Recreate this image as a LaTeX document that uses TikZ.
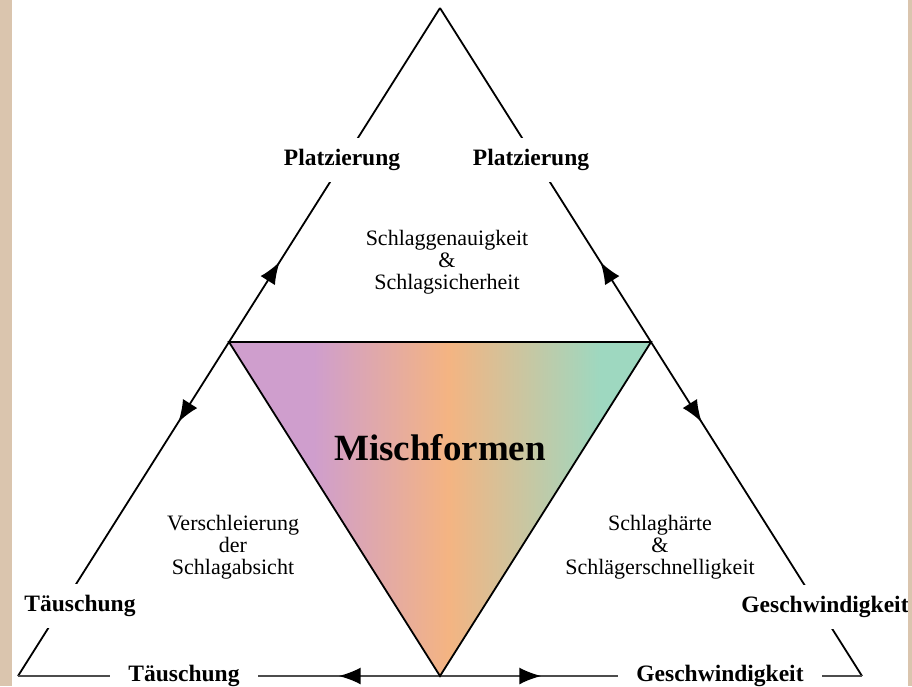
\documentclass[tikz,border=0pt]{standalone}
\usepackage{fontspec}
\setmainfont{Liberation Serif}
\usetikzlibrary{arrows.meta,calc,decorations.markings}
\definecolor{mixpurple}{RGB}{207,158,205}
\definecolor{mixorange}{RGB}{244,180,130}
\definecolor{mixteal}{RGB}{158,216,192}
\definecolor{parchment}{RGB}{218,197,174}
\pgfdeclarehorizontalshading{mixshade}{100bp}{color(0bp)=(mixpurple); color(35bp)=(mixpurple); color(51bp)=(mixorange); color(69bp)=(mixteal); color(100bp)=(mixteal)}

\begin{document}
\begin{tikzpicture}[x=1pt, y=-1pt,
    side/.style={draw=#1, line width=1.8pt, postaction={decorate}, decoration={markings,
        mark=at position 0.38 with {\arrowreversed{Latex[length=22pt,width=17pt,color=black]}},
        mark=at position 0.62 with {\arrow{Latex[length=22pt,width=17pt,color=black]}}}},
    side/.default=black,
    corner/.style={fill=white, inner xsep=18pt, inner ysep=11pt, font=\fontsize{23.5}{26}\selectfont\bfseries},
    area/.style={align=center, font=\fontsize{22}{22}\selectfont},
]
\useasboundingbox (0,0) rectangle (912,686);
\fill[white] (0,0) rectangle (912,686);

\coordinate (top) at (440,8);
\coordinate (left) at (18,676);
\coordinate (right) at (862,676);
\coordinate (midL) at ($(left)!0.5!(top)$);
\coordinate (midR) at ($(right)!0.5!(top)$);
\coordinate (midB) at ($(left)!0.5!(right)$);

\path[side] (left) -- (top);
\path[side] (right) -- (top);
\path[side=black!70] (left) -- (right);

\shadedraw[shading=mixshade, line width=1.8pt, line join=miter] (midL) -- (midR) -- (midB) -- cycle;

\node[font=\fontsize{37}{40}\selectfont\bfseries] (misch) at (440,448) {Mischformen};

\node[corner] (platzL) at (342,160) {Platzierung};
\node[corner] (platzR) at (531,160) {Platzierung};
\node[corner] (tauschL) at (80,606) {Täuschung};
\node[corner] (tauschB) at (184,676) {Täuschung};
\node[corner] (geschwR) at (825,607) {Geschwindigkeit};
\node[corner] (geschwB) at (720,676) {Geschwindigkeit};

\node[area] (genau) at (447,262) {Schlaggenauigkeit\\\&\\Schlagsicherheit};
\node[area] (verschl) at (233,547) {Verschleierung\\der\\Schlagabsicht};
\node[area] (haerte) at (660,547) {Schlaghärte\\\&\\Schlägerschnelligkeit};

\fill[parchment] (0,0) rectangle (12,686);
\fill[parchment] (908,0) rectangle (912,686);
\end{tikzpicture}
\end{document}
